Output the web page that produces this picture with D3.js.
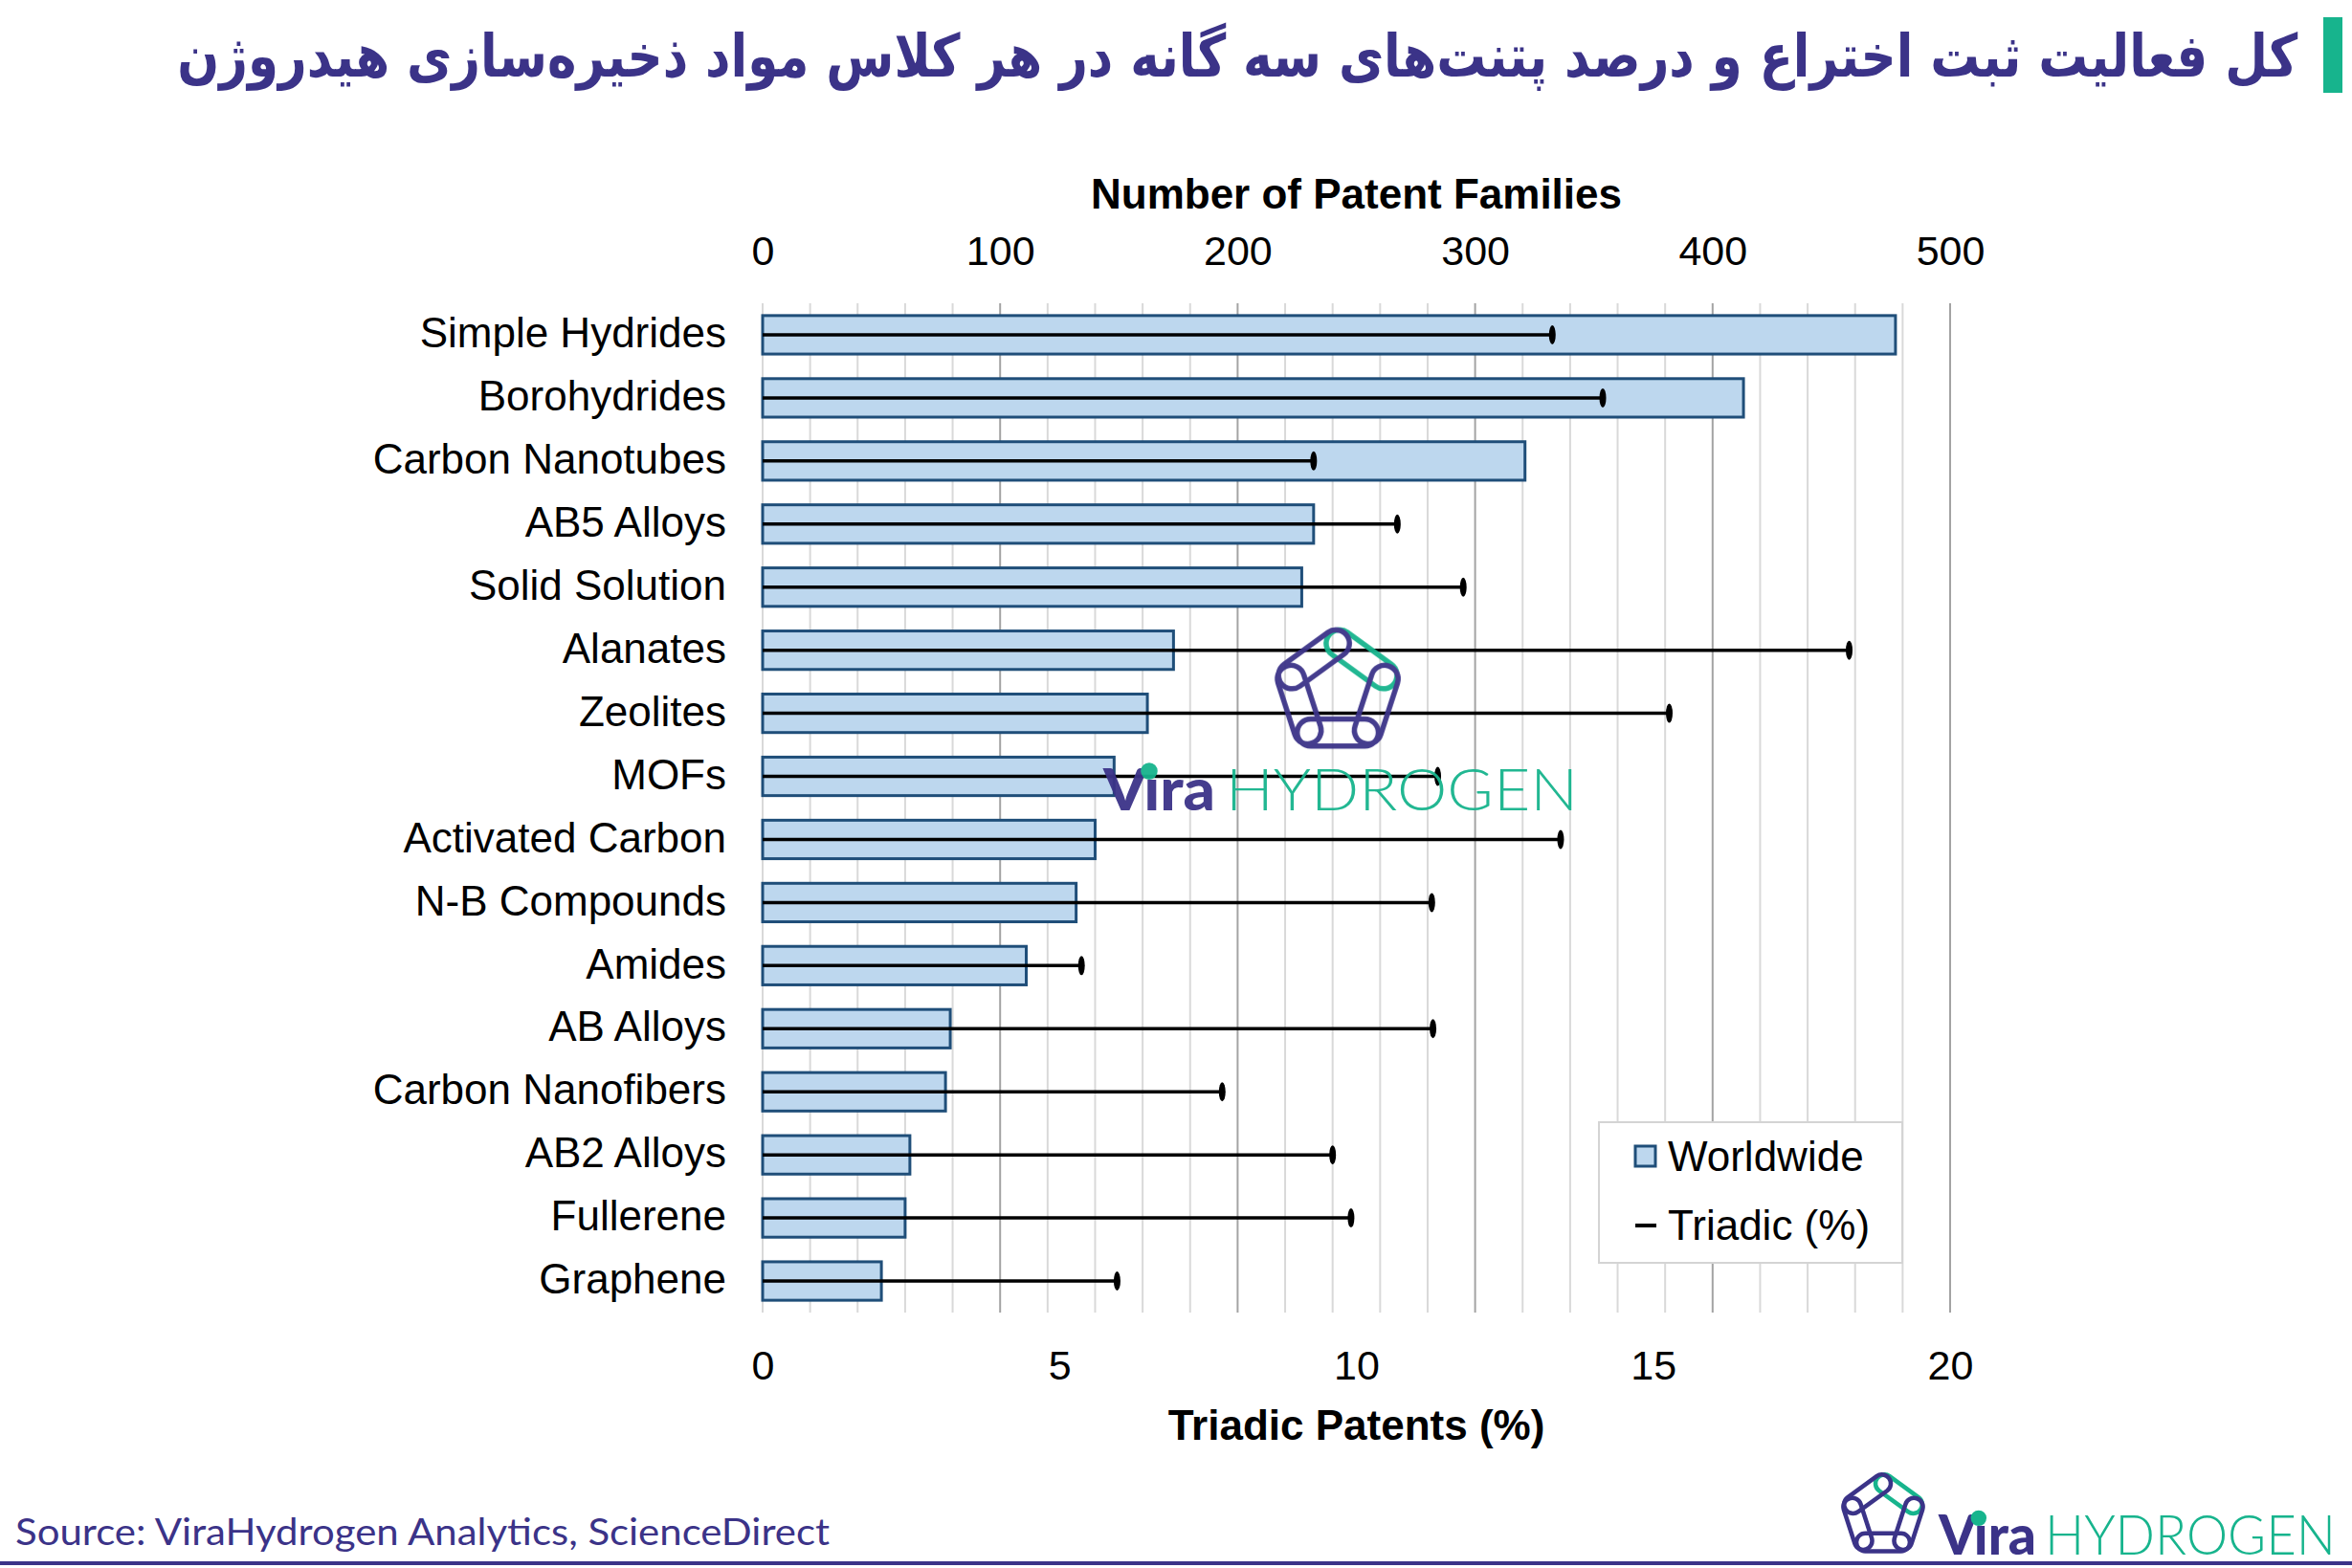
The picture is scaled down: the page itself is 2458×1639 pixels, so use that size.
<!DOCTYPE html>
<html><head><meta charset="utf-8">
<script src="https://cdn.jsdelivr.net/npm/d3@7"></script>
<style>html,body{margin:0;padding:0;background:#fff;} svg{display:block;}</style>
</head><body>
<svg id="chart" width="2458" height="1639"></svg>
<script>
// ---- data ----
const categories = ["Simple Hydrides","Borohydrides","Carbon Nanotubes","AB5 Alloys","Solid Solution","Alanates","Zeolites","MOFs","Activated Carbon","N-B Compounds","Amides","AB Alloys","Carbon Nanofibers","AB2 Alloys","Fullerene","Graphene"];
const worldwide = [477, 413, 321, 232, 227, 173, 162, 148, 140, 132, 111, 79, 77, 62, 60, 50];
const triadic = [13.3, 14.15, 9.28, 10.69, 11.8, 18.3, 15.27, 11.37, 13.44, 11.27, 5.37, 11.29, 7.74, 9.6, 9.91, 5.97];
const familyTicks = [0, 100, 200, 300, 400, 500];
const triadicTicks = [0, 5, 10, 15, 20];
const legendLabels = ["Worldwide", "Triadic (%)"];
const topAxisTitle = "Number of Patent Families";
const bottomAxisTitle = "Triadic Patents (%)";
const titleText = "کل فعالیت ثبت اختراع و درصد پتنت‌های سه گانه در هر کلاس مواد ذخیره‌سازی هیدروژن";
const sourceText = "Source: ViraHydrogen Analytics, ScienceDirect";

// ---- layout ----
const W = 2458, H = 1639;
const L = 797, R = 2038, T = 317, B = 1372;
const INDIGO = "#3b3388", GREEN = "#17b48d";
const svg = d3.select("#chart");
svg.append("rect").attr("width", W).attr("height", H).attr("fill", "#fff");

const xF = d3.scaleLinear().domain([0, 500]).range([L, R]);
const xT = d3.scaleLinear().domain([0, 20]).range([L, R]);
const y = d3.scaleBand().domain(categories).range([T, B]).paddingInner(0.39).paddingOuter(0.195);

// gridlines
const grid = d3.range(0, 501, 20);
svg.append("g").selectAll("line").data(grid).join("line")
  .attr("x1", d => xF(d)).attr("x2", d => xF(d))
  .attr("y1", T).attr("y2", B)
  .attr("stroke", d => (d % 100 === 0 && d > 0) ? "#a3a3a3" : "#d9d9d9")
  .attr("stroke-width", 2);

// top axis
const topAx = svg.append("g").attr("transform", "translate(0,277)")
  .call(d3.axisTop(xF).tickValues(familyTicks).tickSize(0).tickPadding(0));
topAx.select(".domain").remove();
topAx.selectAll("text").attr("y", 0).attr("dy", null)
  .attr("font-family", "'Liberation Sans', Arial, sans-serif").attr("font-size", 43).attr("fill", "#000");

// bottom axis
const botAx = svg.append("g").attr("transform", "translate(0,1442)")
  .call(d3.axisBottom(xT).tickValues(triadicTicks).tickSize(0).tickPadding(0));
botAx.select(".domain").remove();
botAx.selectAll("text").attr("y", 0).attr("dy", null)
  .attr("font-family", "'Liberation Sans', Arial, sans-serif").attr("font-size", 43).attr("fill", "#000");

// category axis
const leftAx = svg.append("g").attr("transform", "translate(759,0)")
  .call(d3.axisLeft(y).tickSize(0).tickPadding(0));
leftAx.select(".domain").remove();
leftAx.selectAll("text").attr("font-family", "'Liberation Sans', Arial, sans-serif")
  .attr("font-size", 44).attr("fill", "#000").attr("dy", "0.3em");

// axis titles
svg.append("text").attr("x", (L + R) / 2).attr("y", 218).attr("text-anchor", "middle")
  .attr("font-family", "'Liberation Sans', Arial, sans-serif").attr("font-weight", "bold")
  .attr("font-size", 44).text(topAxisTitle);
svg.append("text").attr("x", (L + R) / 2).attr("y", 1505).attr("text-anchor", "middle")
  .attr("font-family", "'Liberation Sans', Arial, sans-serif").attr("font-weight", "bold")
  .attr("font-size", 44).text(bottomAxisTitle);

// bars
const rows = categories.map((c, i) => ({c, w: worldwide[i], t: triadic[i]}));
svg.append("g").selectAll("rect").data(rows).join("rect")
  .attr("x", xF(0)).attr("y", d => y(d.c))
  .attr("width", d => xF(d.w) - xF(0)).attr("height", y.bandwidth())
  .attr("fill", "#bdd7ee").attr("stroke", "#1f4e79").attr("stroke-width", 3);

// triadic lines
const tl = svg.append("g");
tl.selectAll("line").data(rows).join("line")
  .attr("x1", xT(0)).attr("x2", d => xT(d.t))
  .attr("y1", d => y(d.c) + y.bandwidth() / 2).attr("y2", d => y(d.c) + y.bandwidth() / 2)
  .attr("stroke", "#000").attr("stroke-width", 3.5);
tl.selectAll("ellipse").data(rows).join("ellipse")
  .attr("cx", d => xT(d.t)).attr("cy", d => y(d.c) + y.bandwidth() / 2)
  .attr("rx", 3.5).attr("ry", 10).attr("fill", "#000");

// legend
const lg = svg.append("g");
lg.append("rect").attr("x", 1671).attr("y", 1173).attr("width", 317).attr("height", 147)
  .attr("fill", "#fff").attr("stroke", "#d4d4d4").attr("stroke-width", 2);
lg.append("rect").attr("x", 1709).attr("y", 1198).attr("width", 21).attr("height", 21)
  .attr("fill", "#bdd7ee").attr("stroke", "#1f4e79").attr("stroke-width", 3);
lg.append("line").attr("x1", 1709).attr("x2", 1731).attr("y1", 1281).attr("y2", 1281)
  .attr("stroke", "#000").attr("stroke-width", 4);
lg.selectAll("text").data(legendLabels).join("text")
  .attr("x", 1743).attr("y", (d, i) => 1224 + i * 72)
  .attr("font-family", "'Liberation Sans', Arial, sans-serif").attr("font-size", 44).text(d => d);

// ---- title ----
svg.append("rect").attr("x", 2428).attr("y", 18).attr("width", 20).attr("height", 79).attr("fill", GREEN);
const title = svg.append("text").attr("x", 0).attr("y", 0)
  .attr("font-family", "'DejaVu Sans', sans-serif").attr("font-weight", "bold")
  .attr("font-size", 62).attr("fill", INDIGO).attr("direction", "rtl").text(titleText);
{
  const bb = title.node().getBBox();
  const sx = 2217 / bb.width;
  const tx = 2402 - sx * (bb.x + bb.width);
  title.attr("transform", `translate(${tx},80) scale(${sx},1)`);
}

// ---- source + bottom rule ----
svg.append("text").attr("x", 16).attr("y", 1615)
  .attr("font-family", "Lato, 'Open Sans', sans-serif").attr("font-size", 39)
  .attr("fill", INDIGO).attr("textLength", 851).attr("lengthAdjust", "spacingAndGlyphs").text(sourceText);
svg.append("rect").attr("x", 0).attr("y", 1632).attr("width", W).attr("height", 4).attr("fill", INDIGO);

// ---- logos ----
function drawLogo(cx, cy, iconW, textX, baseline, capH, viraW, hydX, hydW, sw, opacity) {
  const g = svg.append("g").attr("opacity", opacity);
  const icon = g.append("g");
  const Rr = 100, s = 2 * Rr * Math.sin(Math.PI / 5);
  const verts = d3.range(5).map(k => {
    const a = (-90 + 72 * k) * Math.PI / 180;
    return [Rr * Math.cos(a), Rr * Math.sin(a)];
  });
  const links = [];
  for (let k = 0; k < 5; k++) {
    const p = verts[k], q = verts[(k + 1) % 5];
    links.push({mx: (p[0] + q[0]) / 2, my: (p[1] + q[1]) / 2,
      ang: Math.atan2(q[1] - p[1], q[0] - p[0]) * 180 / Math.PI, green: k === 0});
  }
  const lw = s * 1.38, lh = s * 0.46;
  icon.selectAll("rect").data(links).join("rect")
    .attr("x", -lw / 2).attr("y", -lh / 2).attr("width", lw).attr("height", lh)
    .attr("rx", lh / 2).attr("fill", "none")
    .attr("stroke", d => d.green ? GREEN : INDIGO)
    .attr("transform", d => `translate(${d.mx},${d.my}) rotate(${d.ang})`);
  const bb = icon.node().getBBox();
  const k = iconW / bb.width;
  icon.selectAll("rect").attr("stroke-width", sw / k);
  icon.attr("transform", `translate(${cx - k * (bb.x + bb.width / 2)},${cy - k * (bb.y + bb.height / 2)}) scale(${k})`);

  const fs = capH / 0.72;
  g.append("text").attr("x", textX).attr("y", baseline)
    .attr("font-family", "Lato, Inter, sans-serif").attr("font-weight", 900)
    .attr("font-size", fs).attr("fill", INDIGO)
    .attr("textLength", viraW).attr("lengthAdjust", "spacingAndGlyphs").text("V\u0131ra");
  g.append("circle").attr("cx", textX + 0.41 * viraW).attr("cy", baseline - capH * 0.93)
    .attr("r", capH * 0.2).attr("fill", GREEN);
  g.append("text").attr("x", hydX).attr("y", baseline)
    .attr("font-family", "Lato, 'Open Sans', sans-serif").attr("font-weight", 300)
    .attr("font-size", fs).attr("fill", GREEN)
    .attr("textLength", hydW).attr("lengthAdjust", "spacingAndGlyphs").text("HYDROGEN");
}
drawLogo(1398, 717, 135, 1153, 847, 44, 117, 1281, 368, 5.5, 0.95);
drawLogo(1968, 1580, 89, 2026, 1625, 41, 102, 2137, 304, 4.5, 1);
</script>
</body></html>
